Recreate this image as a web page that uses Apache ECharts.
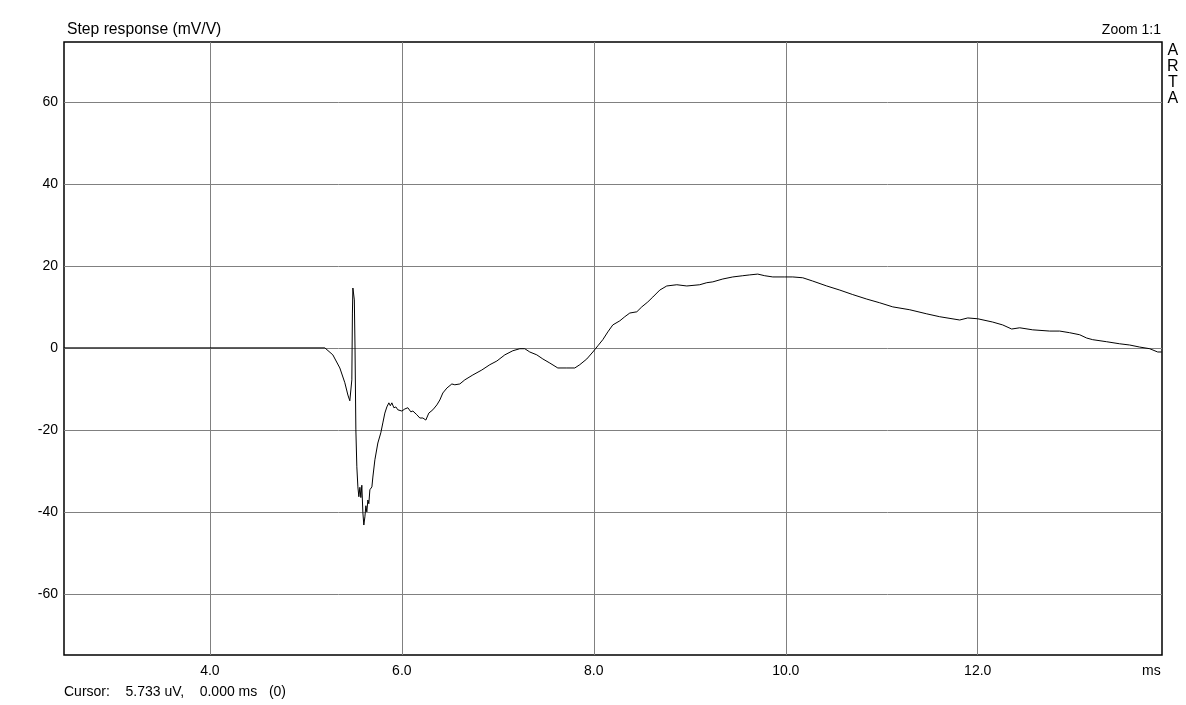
<!DOCTYPE html>
<html>
<head>
<meta charset="utf-8">
<script src="https://cdn.jsdelivr.net/npm/echarts@6/dist/echarts.min.js"></script>
<style>html,body{margin:0;padding:0;background:#fff;}#c{width:1186px;height:705px;}</style>
</head>
<body>
<div id="c"></div>
<script>
// Time (ms) and step response (mV/V)
var timeMs = [2.48, 5.198, 5.281, 5.354, 5.406, 5.438, 5.458, 5.479, 5.485, 5.490, 5.505, 5.512, 5.521, 5.531, 5.542, 5.552,
  5.563, 5.573, 5.583, 5.594, 5.604, 5.615, 5.625, 5.635, 5.646, 5.656, 5.667, 5.688, 5.698, 5.719, 5.750, 5.781, 5.802,
  5.823, 5.844, 5.865, 5.880, 5.896, 5.917, 5.938, 5.958, 6.0, 6.031, 6.0625, 6.094, 6.115, 6.156, 6.1875, 6.219, 6.25,
  6.281, 6.323, 6.365, 6.396, 6.427, 6.469, 6.521, 6.552, 6.604, 6.656, 6.740, 6.833, 6.917, 6.990, 7.073, 7.156, 7.229,
  7.281, 7.333, 7.406, 7.469, 7.542, 7.625, 7.719, 7.802, 7.854, 7.927, 7.990, 8.042, 8.094, 8.146, 8.198, 8.271, 8.323,
  8.375, 8.448, 8.5, 8.5625, 8.615, 8.6875, 8.760, 8.865, 8.969, 9.104, 9.177, 9.240, 9.344, 9.448, 9.552, 9.625, 9.708,
  9.781, 9.865, 9.990, 10.073, 10.177, 10.281, 10.427, 10.5625, 10.698, 10.844, 10.979, 11.115, 11.292, 11.469, 11.604,
  11.8125, 11.896, 12.0, 12.156, 12.260, 12.354, 12.4375, 12.573, 12.75, 12.854, 12.958, 13.0625, 13.135, 13.198, 13.344,
  13.479, 13.583, 13.6875, 13.792, 13.875, 13.917];
var responseMvV = [0, 0, -1.7, -4.9, -8.5, -11.5, -12.9, -7.8, 8.5, 14.6, 11.7, 0.2, -20.0, -29.0, -33.9, -36.3,
  -34.0, -36.5, -33.5, -40.2, -43.2, -41.2, -38.5, -40.0, -37.1, -38.0, -34.6, -33.9, -31.5, -27.3, -23.2, -20.7, -18.3,
  -15.9, -14.4, -13.4, -14.1, -13.4, -14.6, -14.4, -15.1, -15.4, -14.9, -14.6, -15.6, -15.4, -16.3, -17.1, -17.1, -17.6,
  -15.9, -15.1, -13.9, -12.7, -11.0, -9.8, -8.8, -9.0, -8.8, -7.8, -6.6, -5.4, -4.1, -3.2, -1.7, -0.7, -0.2,
  -0.2, -1.0, -1.7, -2.7, -3.7, -4.9, -4.9, -4.9, -4.1, -2.7, -1.0, 0.5, 2.0, 3.9, 5.6, 6.6, 7.6,
  8.5, 8.8, 10.0, 11.2, 12.4, 14.1, 15.1, 15.4, 15.1, 15.4, 15.9, 16.1, 16.8, 17.3, 17.6, 17.8, 18.0,
  17.6, 17.3, 17.3, 17.3, 17.1, 16.3, 15.1, 14.1, 13.0, 11.9, 11.0, 10.0, 9.3, 8.3, 7.6,
  6.8, 7.3, 7.1, 6.3, 5.6, 4.6, 4.9, 4.4, 4.1, 4.1, 3.7, 3.2, 2.4, 2.0, 1.5,
  1.0, 0.7, 0.2, -0.2, -1.0, -1.0];
var xTicks = [4, 6, 8, 10, 12];
var yTicks = [-60, -40, -20, 0, 20, 40, 60];
var xRange = [2.48, 13.92];
var yRange = [-74.9, 74.6];
var titleText = 'Step response (mV/V)';
var zoomText = 'Zoom 1:1';
var brandText = 'ARTA';
var unitText = 'ms';
var cursorText = 'Cursor:    5.733 uV,    0.000 ms   (0)';

var FONT = '"Liberation Sans", Arial, sans-serif';
var pts = timeMs.map(function (t, i) { return [t, responseMvV[i]]; });
var gridLines = xTicks.map(function (v) { return { xAxis: v }; })
  .concat(yTicks.map(function (v) { return { yAxis: v }; }));

var chart = echarts.init(document.getElementById('c'), null, { renderer: 'canvas' });
chart.setOption({
  animation: false,
  backgroundColor: '#ffffff',
  textStyle: { fontFamily: FONT },
  grid: { left: 64, right: 24, top: 42, bottom: 50, show: true, borderColor: '#000', borderWidth: 1.5, backgroundColor: '#fff' },
  xAxis: {
    type: 'value', min: xRange[0], max: xRange[1],
    axisLine: { show: false }, axisTick: { show: false }, splitLine: { show: false },
    axisLabel: { customValues: xTicks, color: '#000', fontSize: 14, fontFamily: FONT, margin: 9,
      formatter: function (v) { return v.toFixed(1); } }
  },
  yAxis: {
    type: 'value', min: yRange[0], max: yRange[1],
    axisLine: { show: false }, axisTick: { show: false }, splitLine: { show: false },
    axisLabel: { customValues: yTicks, color: '#000', fontSize: 14, fontFamily: FONT, margin: 6 }
  },
  graphic: [
    { type: 'text', left: 67, top: 22, style: { text: titleText, font: '15.7px ' + FONT, fill: '#000' } },
    { type: 'text', right: 25, top: 23, style: { text: zoomText, font: '14px ' + FONT, fill: '#000', textAlign: 'right' } },
    { type: 'text', left: 1167, top: 43, style: { text: brandText.split('').join('\n'), font: '16px ' + FONT, fill: '#000', lineHeight: 16, textAlign: 'center' } },
    { type: 'text', left: 1142, top: 664, style: { text: unitText, font: '14px ' + FONT, fill: '#000' } },
    { type: 'text', left: 64, top: 685, style: { text: cursorText, font: '14px ' + FONT, fill: '#000', whiteSpace: 'pre' } }
  ],
  series: [{
    type: 'line', data: pts, showSymbol: false, symbol: 'none', smooth: false,
    lineStyle: { color: '#000', width: 1 },
    z: 5,
    markLine: {
      silent: true, symbol: 'none', label: { show: false }, animation: false,
      lineStyle: { color: '#808080', width: 1, type: 'solid' },
      emphasis: { disabled: true },
      data: gridLines
    }
  }]
});
</script>
</body>
</html>
